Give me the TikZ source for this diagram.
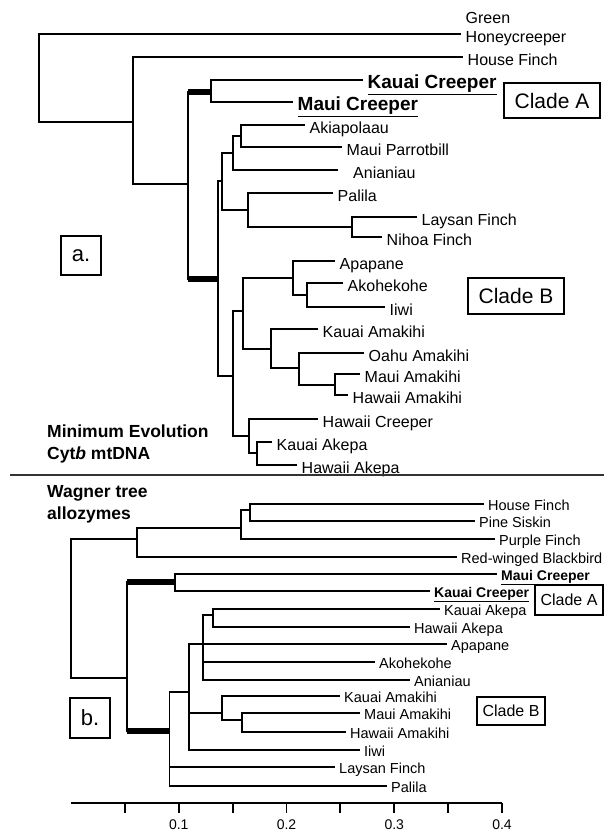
\documentclass[tikz,border=0pt]{standalone}
\usepackage{fontspec}
\setmainfont{Liberation Sans}
\usetikzlibrary{positioning}

\tikzset{
  br/.style={line width=1.6pt},
  thickbr/.style={line width=5.5pt},
  leafa/.style={anchor=west, inner xsep=4.5pt, inner ysep=0pt, text height=16.5pt, text depth=0pt,
    font=\fontsize{16}{19}\selectfont},
  leafb/.style={anchor=west, inner xsep=4pt, inner ysep=0pt, text height=12.4pt, text depth=0pt,
    font=\fontsize{14.5}{17}\selectfont},
  creepera/.style={leafa, text height=17.6pt, font=\fontsize{19}{22}\selectfont\bfseries},
  creeperb/.style={leafb, text height=12.2pt, font=\fontsize{14}{17}\selectfont\bfseries},
  cladebox/.style={draw, line width=1.2pt, inner sep=0pt},
  title/.style={anchor=west, align=left, inner sep=0pt, font=\fontsize{17.5}{22}\selectfont\bfseries},
  axisline/.style={line width=1.8pt},
  ticklbl/.style={font=\fontsize{14}{17}\selectfont}
}

\begin{document}
\begin{tikzpicture}[x=1pt,y=-1pt]
\useasboundingbox (0,0) rectangle (604,832);

%%% (a) minimum evolution tree
\coordinate (ra)  at (39,78); %
\coordinate (a1)  at (133,122); %
\coordinate (a2)  at (188,184); %
\coordinate (aA)  at (211,92); %
\coordinate (aB)  at (218,279); %
\coordinate (a3)  at (222,181); %
\coordinate (a4)  at (233,153); %
\coordinate (a5)  at (241,136); %
\coordinate (a6)  at (248,210); %
\coordinate (a7)  at (352,227); %
\coordinate (a8)  at (233,376); %
\coordinate (a9)  at (243,311); %
\coordinate (a10) at (293,278); %
\coordinate (a11) at (307,295); %
\coordinate (a12) at (271,349); %
\coordinate (a13) at (299,368); %
\coordinate (a14) at (335,385); %
\coordinate (a15) at (249,436); %
\coordinate (a16) at (257,453); %

\coordinate (ghc) at (461,34); %
\node[leafa, align=left, yshift=4.5pt, text height=, text depth=] (ghclbl) at (ghc) {Green\\Honeycreeper}; %
\node[leafa]    (hfa)   at (463,57)  {House Finch}; %
\node[creepera] (kca)   at (363,80)  {\underline{Kauai Creeper}}; %
\node[creepera] (mca)   at (293,102) {\underline{Maui Creeper}}; %
\node[leafa]    (akia)  at (305,125) {Akiapolaau}; %
\node[leafa]    (mpb)   at (342,147) {Maui Parrotbill}; %
\node[leafa, inner xsep=15pt] (ania) at (338,170) {Anianiau}; %
\node[leafa]    (pala)  at (333,193) {Palila}; %
\node[leafa]    (lfa)   at (417,217) {Laysan Finch}; %
\node[leafa]    (nfa)   at (382,237) {Nihoa Finch}; %
\node[leafa]    (apaa)  at (335,261) {Apapane}; %
\node[leafa]    (akoa)  at (343,283) {Akohekohe}; %
\node[leafa]    (iiwia) at (385,307) {Iiwi}; %
\node[leafa]    (kama)  at (318,329) {Kauai Amakihi}; %
\node[leafa]    (oama)  at (364,353) {Oahu Amakihi}; %
\node[leafa]    (mama)  at (360,374) {Maui Amakihi}; %
\node[leafa]    (hama)  at (348,395) {Hawaii Amakihi}; %
\node[leafa]    (hcra)  at (318,419) {Hawaii Creeper}; %
\node[leafa]    (kaka)  at (272,442) {Kauai Akepa}; %
\node[leafa]    (haka)  at (297,465) {Hawaii Akepa}; %

\draw[br] (ra) |- (ghc) (ra) |- (a1);
\draw[br] (a1) |- (hfa.west) (a1) |- (a2);
\draw[br] (a2) |- (aA) (a2) |- (aB);
\draw[thickbr] (a2 |- aA) -- (aA);
\draw[thickbr] (a2 |- aB) -- (aB);
\draw[br] (aA) |- (kca.west) (aA) |- (mca.west);
\draw[br] (aB) |- (a3) (aB) |- (a8);
\draw[br] (a3) |- (a4) (a3) |- (a6);
\draw[br] (a4) |- (a5) (a4) |- (ania.west);
\draw[br] (a5) |- (akia.west) (a5) |- (mpb.west);
\draw[br] (a6) |- (pala.west) (a6) |- (a7);
\draw[br] (a7) |- (lfa.west) (a7) |- (nfa.west);
\draw[br] (a8) |- (a9) (a8) |- (a15);
\draw[br] (a9) |- (a10) (a9) |- (a12);
\draw[br] (a10) |- (apaa.west) (a10) |- (a11);
\draw[br] (a11) |- (akoa.west) (a11) |- (iiwia.west);
\draw[br] (a12) |- (kama.west) (a12) |- (a13);
\draw[br] (a13) |- (oama.west) (a13) |- (a14);
\draw[br] (a14) |- (mama.west) (a14) |- (hama.west);
\draw[br] (a15) |- (hcra.west) (a15) |- (a16);
\draw[br] (a16) |- (kaka.west) (a16) |- (haka.west);

\node[cladebox, minimum width=96pt, minimum height=35pt, font=\fontsize{21}{24}\selectfont] (cladeA) at (552,100.5) {Clade A};
\node[cladebox, minimum width=96pt, minimum height=36pt, font=\fontsize{21}{24}\selectfont] (cladeB) at (516,296) {Clade B};
\node[cladebox, minimum width=40pt, minimum height=39pt, font=\fontsize{22}{24}\selectfont] (pa) at (81,255.5) {a.};
\node[title] (titlea) at (47,444) {Minimum Evolution\\Cyt\textit{b} mtDNA};

\draw[line width=1.2pt, black!80] (10,475) -- (604,475);

%%% (b) wagner tree
\coordinate (rb)  at (71,600); %
\coordinate (b1)  at (137,539); %
\coordinate (b2)  at (241,528); %
\coordinate (b3)  at (250,510); %
\coordinate (b5)  at (127,678); %
\coordinate (bA)  at (175,582); %
\coordinate (bB)  at (169.5,731); %
\coordinate (b6)  at (189,692); %
\coordinate (b7)  at (203,644); %
\coordinate (b8)  at (213,615); %
\coordinate (b9)  at (222,713); %
\coordinate (b10) at (242,720); %

\node[leafb]    (hfb)   at (484,504) {House Finch}; %
\node[leafb]    (psb)   at (475,521) {Pine Siskin}; %
\node[leafb]    (pfb)   at (495,539) {Purple Finch}; %
\node[leafb]    (rwb)   at (457,557) {Red-winged Blackbird}; %
\node[creeperb] (mcb)   at (497,574) {\underline{Maui Creeper}}; %
\node[creeperb] (kcb)   at (430,591) {\underline{Kauai Creeper}}; %
\node[leafb]    (kakb)  at (440,609) {Kauai Akepa}; %
\node[leafb]    (hakb)  at (410,627) {Hawaii Akepa}; %
\node[leafb]    (apab)  at (447,644) {Apapane}; %
\node[leafb]    (akob)  at (375,662) {Akohekohe}; %
\node[leafb]    (anib)  at (410,680) {Anianiau}; %
\node[leafb]    (kamb)  at (340,696) {Kauai Amakihi}; %
\node[leafb]    (mamb)  at (360,713) {Maui Amakihi}; %
\node[leafb]    (hamb)  at (346,732) {Hawaii Amakihi}; %
\node[leafb]    (iiwib) at (360,750) {Iiwi}; %
\node[leafb]    (lfb)   at (335,767) {Laysan Finch}; %
\node[leafb]    (palb)  at (387,786) {Palila}; %

\draw[br] (rb) |- (b1) (rb) |- (b5);
\draw[br] (b1) |- (b2) (b1) |- (rwb.west);
\draw[br] (b2) |- (b3) (b2) |- (pfb.west);
\draw[br] (b3) |- (hfb.west) (b3) |- (psb.west);
\draw[br] (b5) |- (bA) (b5) |- (bB);
\draw[thickbr] (b5 |- bA) -- (bA);
\draw[thickbr] (b5 |- bB) -- (bB);
\draw[br] (bA) |- (mcb.west) (bA) |- (kcb.west);
\draw[br] (bB) |- (b6) (bB) |- (lfb.west) (bB) |- (palb.west);
\draw[br] (b6) |- (b7) (b6) |- (b9) (b6) |- (iiwib.west);
\draw[br] (b7) |- (b8) (b7) |- (apab.west) (b7) |- (akob.west) (b7) |- (anib.west);
\draw[br] (b8) |- (kakb.west) (b8) |- (hakb.west);
\draw[br] (b9) |- (kamb.west) (b9) |- (b10);
\draw[br] (b10) |- (mamb.west) (b10) |- (hamb.west);

\node[cladebox, minimum width=68pt, minimum height=30pt, font=\fontsize{16}{19}\selectfont] (cladeAb) at (569,600) {Clade A};
\node[cladebox, minimum width=68pt, minimum height=28pt, font=\fontsize{16}{19}\selectfont] (cladeBb) at (511,711) {Clade B};
\node[cladebox, minimum width=40pt, minimum height=40pt, font=\fontsize{22}{24}\selectfont] (pb) at (90,718) {b.};
\node[title] (titleb) at (47,504) {Wagner tree\\allozymes};

% scale bar
\draw[axisline] (71,803) -- (502,803);
\foreach \t in {1,...,8}
  \draw[axisline] ({71+53.875*\t},803) -- ++(0,10);
\foreach \t in {1,...,4}
  \node[ticklbl] (tick\t) at ({71+107.75*\t},825) {0.\t};

\end{tikzpicture}
\end{document}
